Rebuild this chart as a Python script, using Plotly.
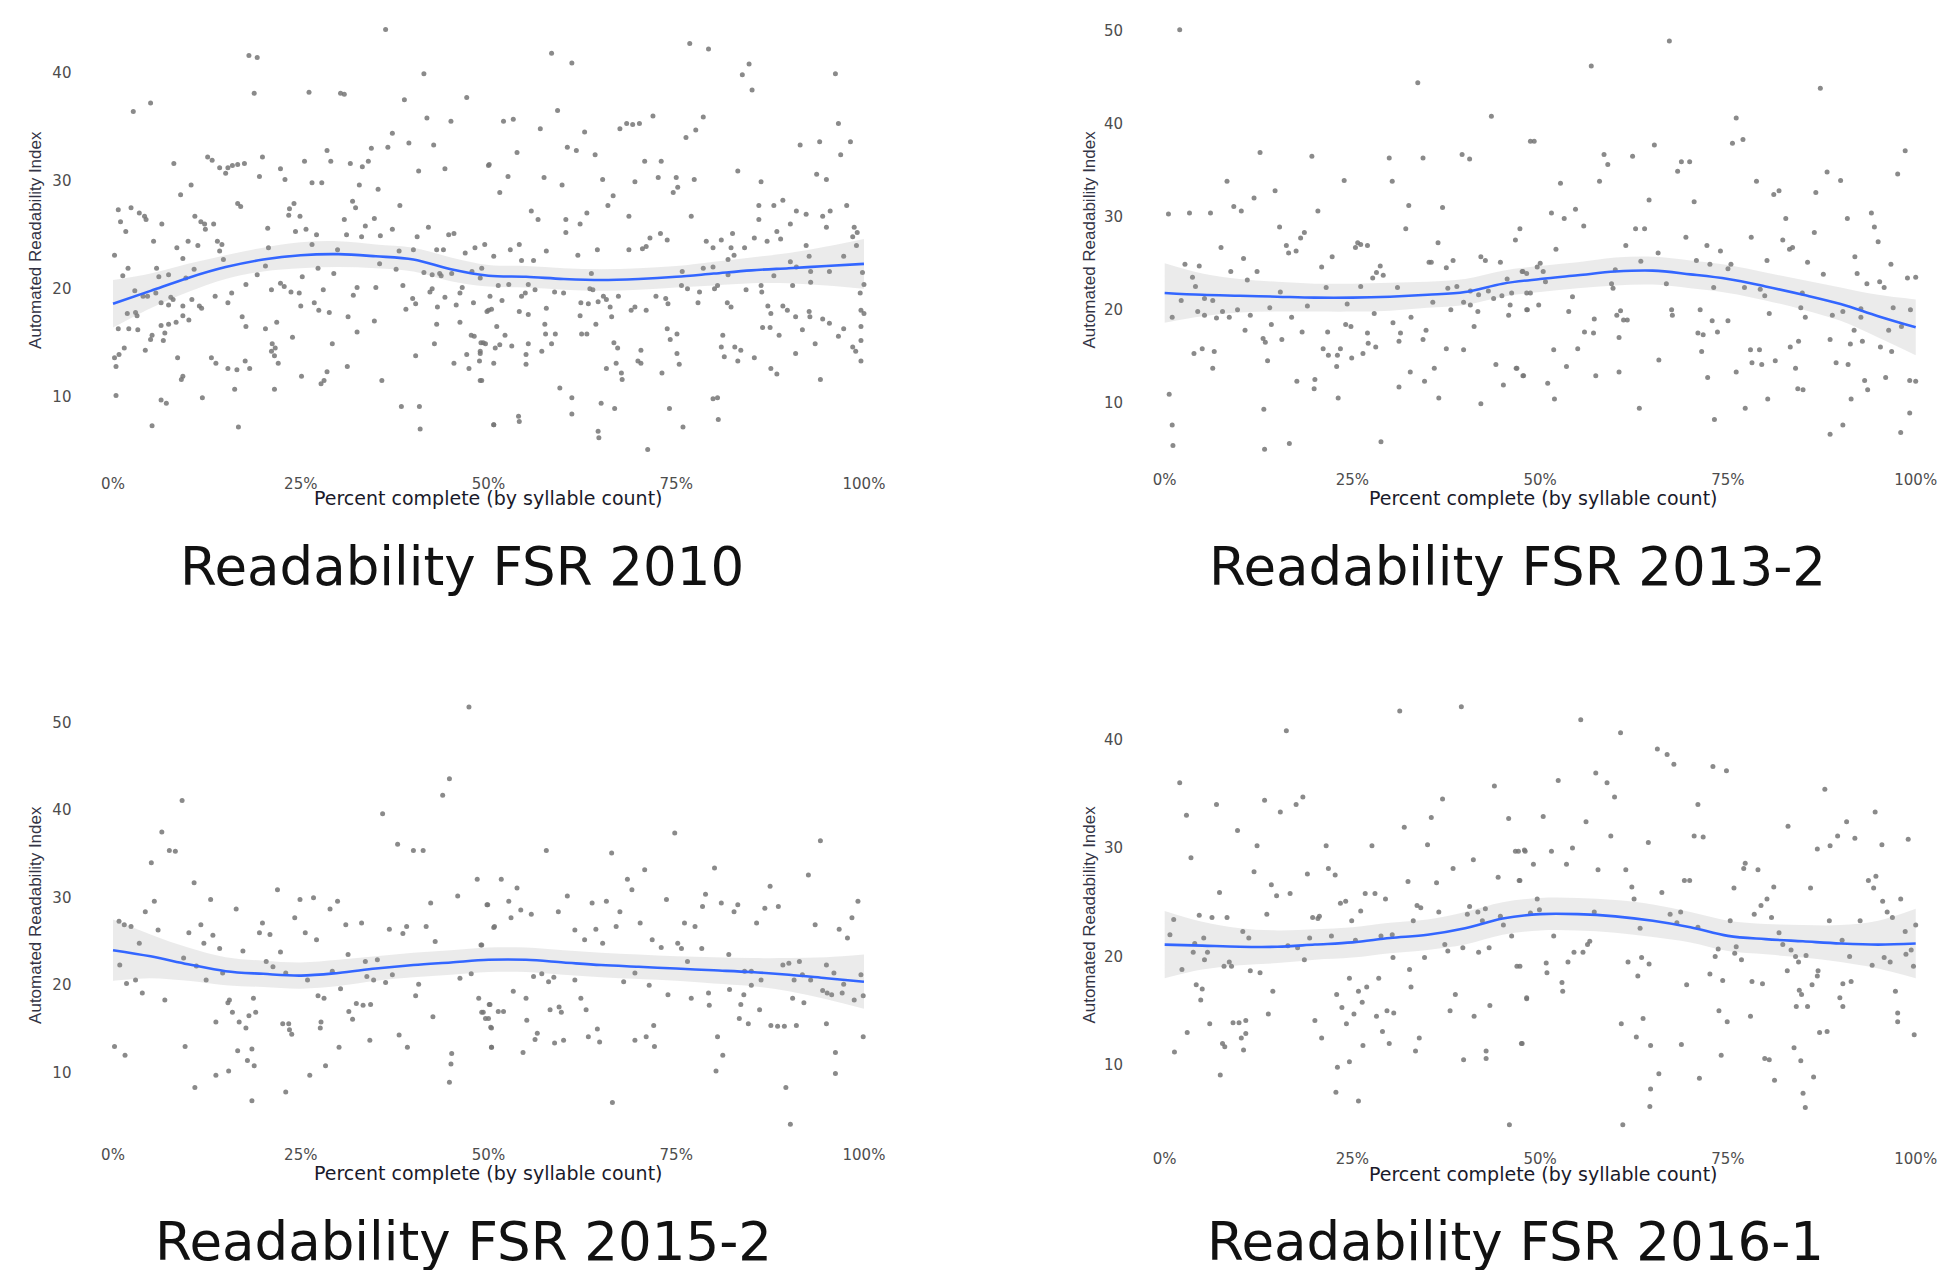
import plotly.graph_objects as go

W, H = 1938, 1270

titles = ["Readability FSR 2010", "Readability FSR 2013-2", "Readability FSR 2015-2", "Readability FSR 2016-1"]
x_title = "Percent complete (by syllable count)"
y_title = "Automated Readability Index"
x_tickvals = [0, 25, 50, 75, 100]
x_ticktext = ["0%", "25%", "50%", "75%", "100%"]
y_ticks_p1 = [10, 20, 30, 40]
y_ticks_p2 = [10, 20, 30, 40, 50]
y_ticks_p3 = [10, 20, 30, 40, 50]
y_ticks_p4 = [10, 20, 30, 40]

# ---------------- Panel 1: FSR 2010 (percent, ARI) ----------------
p1_pts = [
(36.3,44.0),(18.1,41.6),(19.2,41.4),(41.4,39.9),(18.8,38.1),(26.1,38.2),(30.3,38.1),(30.8,38.0),(38.8,37.5),(47.1,37.7),
(5.0,37.2),(2.7,36.4),(41.8,35.8),(45.0,35.5),(37.2,34.4),(36.6,33.1),(39.4,33.5),(34.4,33.0),(42.7,33.3),(28.5,32.8),
(12.6,32.2),(13.2,31.9),(8.1,31.6),(14.2,31.2),(15.3,31.2),(15.9,31.4),(16.6,31.5),(17.5,31.6),(15.0,30.7),(19.9,32.2),
(25.5,31.8),(29.0,31.8),(31.6,31.6),(33.2,31.3),(34.0,31.8),(40.7,30.9),(44.2,31.1),(50.0,31.4),(22.3,31.1),(19.5,30.4),
(22.9,30.1),(26.5,29.8),(27.8,29.8),(32.8,29.6),(35.3,29.2),(10.4,29.6),(9.0,28.7),(31.9,28.1),(32.3,27.5),(38.2,27.7),
(24.1,27.9),(23.5,27.4),(23.4,26.8),(24.9,26.7),(16.6,27.9),(17.0,27.6),(0.7,27.3),(2.4,27.5),(3.5,27.0),(4.2,26.7),
(4.4,26.4),(1.0,26.2),(1.7,25.3),(6.5,26.0),(10.9,26.7),(11.7,26.2),(12.2,26.0),(13.4,26.0),(12.3,25.5),(30.8,26.4),
(34.8,26.5),(33.6,25.8),(42.0,25.7),(37.2,25.5),(20.6,25.6),(24.3,25.3),(25.7,25.5),(27.1,25.0),(31.1,25.0),(33.1,24.8),
(35.6,24.9),(40.5,24.8),(44.7,25.0),(45.4,25.1),(5.4,24.4),(10.0,24.4),(11.3,24.0),(8.5,23.8),(9.3,22.8),(13.9,24.4),
(14.5,24.1),(14.2,23.5),(0.2,23.1),(20.7,23.8),(26.5,24.1),(29.9,23.6),(38.1,23.5),(40.0,23.6),(43.1,23.6),(44.0,23.6),
(46.9,23.3),(48.2,23.8),(49.5,24.1),(14.7,22.7),(2.0,21.9),(1.3,21.2),(5.8,21.9),(6.1,21.1),(7.4,21.3),(10.8,21.8),
(9.7,21.0),(20.3,22.1),(19.2,21.3),(27.3,21.9),(29.4,21.4),(35.5,22.3),(37.7,21.8),(41.4,21.5),(42.5,21.3),(43.5,21.4),
(43.7,21.2),(45.1,21.4),(47.8,21.6),(48.9,21.0),(17.7,20.4),(21.1,19.9),(22.3,20.5),(22.8,20.2),(23.7,19.7),(24.8,19.6),
(25.2,21.1),(28.0,19.9),(32.5,20.1),(32.0,19.4),(35.0,20.1),(38.6,20.3),(42.5,20.0),(42.2,19.7),(46.5,20.1),(46.2,19.6),
(2.9,19.8),(4.0,19.3),(4.6,19.3),(5.7,19.6),(7.7,19.2),(8.0,19.0),(6.4,18.7),(7.4,18.5),(10.5,19.0),(11.5,18.4),
(11.8,18.2),(9.3,18.4),(13.6,19.3),(15.8,19.6),(15.3,18.7),(26.8,18.7),(25.0,18.4),(27.4,18.0),(28.8,17.8),(39.9,19.1),
(40.3,18.6),(39.0,18.1),(43.2,18.3),(44.2,19.2),(45.7,18.5),(48.0,18.7),(49.8,17.9),(50.4,18.1),(1.9,17.7),(3.0,17.8),
(3.2,17.5),(9.3,17.5),(10.1,17.1),(8.4,16.9),(17.2,17.4),(31.3,17.4),(34.8,17.0),(0.7,16.3),(2.1,16.3),(3.3,16.2),
(6.4,16.6),(7.4,16.7),(6.9,15.9),(5.2,15.7),(6.7,15.2),(5.0,15.3),(17.7,16.5),(20.3,16.3),(21.8,16.9),(23.9,15.5),
(32.5,16.0),(43.1,16.7),(46.2,16.9),(47.7,15.7),(48.1,15.6),(49.0,15.0),(49.6,14.9),(29.2,14.9),(21.2,14.9),(21.6,14.5),
(21.1,14.2),(42.8,14.9),(4.3,14.3),(1.5,14.5),(0.2,13.6),(0.8,13.9),(8.6,13.6),(13.1,13.6),(13.7,13.1),(15.3,12.6),
(16.5,12.5),(17.6,13.3),(18.2,12.6),(21.5,13.8),(22.0,13.1),(40.3,13.8),(45.4,13.1),(47.1,13.9),(47.4,12.6),(48.9,14.2),
(48.8,13.3),(0.4,12.8),(31.2,12.8),(9.3,11.9),(9.1,11.6),(25.1,11.9),(28.5,12.3),(28.1,11.5),(27.7,11.2),(35.8,11.5),
(48.9,11.5),(16.2,10.7),(21.5,10.7),(0.4,10.1),(11.9,9.9),(6.4,9.7),(7.1,9.4),(38.4,9.1),(40.8,9.1),(5.2,7.3),
(16.7,7.2),(40.9,7.0),(50.7,7.4),
(76.8,42.7),(79.3,42.2),(58.4,41.8),(61.1,40.9),(84.7,40.8),(83.8,39.8),(85.1,38.4),(96.2,39.9),(59.2,36.5),(52.0,35.5),
(53.3,35.7),(56.9,34.8),(62.8,34.5),(67.5,34.8),(68.4,35.3),(69.2,35.2),(70.1,35.3),(71.9,36.0),(78.6,35.9),(77.6,34.7),
(76.3,34.0),(96.6,35.3),(98.2,33.6),(94.1,33.6),(91.5,33.3),(96.9,32.4),(60.5,33.1),(61.7,32.8),(53.8,32.6),(64.2,32.4),
(50.1,31.5),(70.8,31.8),(73.0,31.8),(52.6,30.4),(57.4,30.3),(59.8,29.6),(65.2,30.1),(69.5,29.9),(72.6,30.3),(75.0,30.3),
(75.2,29.4),(74.6,28.9),(77.4,30.1),(83.2,30.9),(86.3,29.9),(93.7,30.6),(95.0,30.1),(51.5,28.9),(66.6,28.6),(65.9,27.7),
(55.7,27.2),(56.6,26.4),(60.3,26.4),(62.2,26.0),(63.1,27.0),(60.3,25.2),(68.7,26.7),(77.0,26.7),(86.0,27.7),(88.0,27.7),
(89.2,28.2),(86.0,26.4),(91.0,27.2),(92.3,26.9),(94.5,26.7),(95.5,27.2),(97.7,27.7),(90.2,26.0),(88.4,25.3),(95.0,25.7),
(98.7,25.7),(99.1,25.2),(98.5,24.8),(71.5,24.7),(72.9,25.1),(73.8,24.5),(79.0,24.4),(79.9,23.8),(81.0,24.5),(82.5,25.1),
(82.3,23.8),(82.7,23.1),(81.9,22.7),(84.1,23.8),(85.4,24.7),(87.1,24.4),(88.9,24.6),(92.3,24.0),(92.7,23.0),(99.0,24.0),
(97.3,23.0),(70.5,23.7),(71.0,23.9),(68.7,23.6),(64.5,23.6),(61.9,23.1),(57.7,23.5),(52.9,23.6),(54.1,24.1),(50.7,23.0),
(54.4,22.6),(56.0,22.6),(49.1,21.9),(78.6,21.9),(79.9,22.0),(81.9,21.3),(75.8,21.6),(90.2,22.5),(91.0,22.0),(92.9,21.6),
(95.4,21.6),(88.0,21.2),(63.7,21.4),(51.3,20.3),(52.7,20.4),(55.3,20.4),(56.2,19.9),(58.8,19.7),(60.0,19.6),(63.5,20.0),
(63.9,19.9),(75.7,20.3),(76.5,20.0),(78.1,19.7),(80.1,20.0),(80.5,20.3),(84.3,19.9),(86.3,20.3),(86.4,19.7),(90.5,20.3),
(92.9,20.6),(50.2,19.3),(51.8,18.9),(54.9,19.6),(54.4,19.3),(57.7,18.2),(62.3,18.7),(63.3,18.6),(64.6,18.8),(65.3,19.3),
(65.7,19.0),(67.3,19.3),(72.3,19.3),(73.6,19.1),(73.9,18.6),(77.9,18.7),(81.8,18.7),(82.3,18.3),(69.5,18.3),(69.0,18.0),
(71.0,18.0),(66.2,18.3),(66.4,17.4),(50.0,18.0),(54.1,17.9),(55.3,17.6),(62.2,17.5),(87.2,18.4),(87.6,17.7),(89.2,18.4),
(89.8,18.0),(90.9,17.4),(92.7,17.9),(92.8,17.4),(94.5,17.2),(95.4,16.8),(99.6,18.0),(100.0,17.7),(99.6,16.5),(97.3,16.3),
(91.8,16.2),(86.5,16.4),(87.5,16.4),(88.7,15.7),(96.6,15.6),(57.5,16.7),(57.6,15.8),(58.9,15.8),(62.4,15.8),(63.1,15.8),
(64.3,16.7),(51.1,16.5),(52.2,15.7),(73.8,16.3),(75.1,15.8),(74.2,15.3),(49.3,15.0),(50.9,14.5),(51.5,14.8),(53.1,14.7),
(55.3,14.9),(58.4,14.9),(57.1,14.2),(66.7,15.0),(67.2,14.5),(70.3,14.3),(81.2,15.7),(81.0,14.6),(82.8,14.6),(83.6,14.3),
(90.9,14.0),(93.5,14.9),(98.5,14.6),(98.9,14.2),(99.6,15.2),(48.9,14.0),(50.7,13.1),(55.0,13.9),(55.0,13.0),(69.9,13.3),
(70.3,13.1),(75.1,14.0),(75.4,13.0),(81.4,13.7),(83.2,13.3),(85.4,13.6),(99.6,13.3),(65.7,12.6),(67.0,13.1),(67.7,12.2),
(67.8,11.6),(73.1,12.2),(87.6,12.6),(88.4,12.1),(49.1,11.5),(94.2,11.6),(59.5,10.8),(61.1,9.9),(54.0,8.2),(54.1,7.7),
(50.7,7.4),(61.1,8.4),(65.0,9.4),(66.8,8.9),(74.1,8.9),(79.9,9.8),(80.5,9.9),(80.6,7.9),(75.9,7.2),(64.6,6.8),
(64.7,6.2),(71.2,5.1),(99.8,21.5),(100.0,20.4),(99.5,19.6),
]

# ---------------- Panel 2: FSR 2013-2 ----------------
p2_pts = [
(2.0,50.1),(33.7,44.4),(43.5,40.8),(48.7,38.1),(12.7,36.9),(19.6,36.5),(29.9,36.3),(34.4,36.3),(39.6,36.7),(40.6,36.2),
(8.3,33.8),(23.9,33.9),(30.3,33.8),(14.7,32.8),(11.9,32.0),(9.2,31.1),(10.2,30.6),(20.4,30.6),(32.5,31.2),(37.0,31.0),
(0.5,30.3),(3.3,30.4),(6.1,30.4),(15.3,28.9),(32.1,28.7),(47.3,28.7),(46.7,27.5),(18.6,28.3),(18.1,27.7),(7.5,26.7),
(16.2,26.9),(16.5,26.1),(17.5,26.3),(25.7,27.2),(26.1,27.0),(27.0,26.9),(25.4,26.7),(36.4,27.2),(10.5,25.5),(22.3,25.7),
(42.1,25.7),(42.7,25.3),(44.7,25.1),(35.2,25.1),(35.5,25.1),(38.4,25.3),(37.5,24.5),(2.7,24.9),(4.6,24.7),(20.9,24.6),
(28.7,24.7),(8.8,24.1),(12.3,24.1),(28.2,24.0),(29.1,23.7),(47.7,24.1),(3.7,23.5),(11.0,23.2),(27.7,23.4),(4.1,22.5),
(31.0,22.4),(26.1,22.5),(21.5,22.4),(15.4,21.9),(37.7,22.3),(38.9,22.5),(40.7,22.0),(41.8,21.6),(43.1,22.0),(45.6,23.3),
(44.9,21.5),(46.2,21.8),(48.2,21.8),(43.8,21.2),(2.2,21.0),(5.3,21.2),(6.4,21.0),(14.0,20.2),(19.0,20.4),(24.3,20.6),
(35.7,20.8),(39.8,20.8),(40.7,20.5),(46.0,20.5),(1.0,19.2),(4.4,19.8),(5.3,19.4),(6.9,19.1),(7.7,19.8),(8.6,19.2),
(9.7,20.0),(11.4,19.4),(16.9,19.2),(27.9,19.6),(32.8,19.2),(38.1,20.0),(41.7,19.8),(45.8,19.4),(48.2,20.0),(14.2,18.4),
(30.4,18.6),(41.2,18.2),(10.7,17.8),(18.3,17.6),(21.7,17.6),(24.1,18.4),(24.8,18.2),(27.0,17.5),(31.4,17.5),(34.8,17.8),
(13.1,16.9),(13.4,16.5),(15.6,16.8),(31.2,16.6),(34.4,16.8),(27.1,16.4),(28.1,16.0),(21.1,15.8),(21.8,15.1),(23.0,15.1),
(23.4,15.8),(24.9,14.8),(26.4,15.3),(37.5,15.8),(39.8,15.7),(5.0,15.8),(3.9,15.3),(6.6,15.5),(6.4,13.7),(13.7,14.5),
(22.9,13.9),(32.7,13.3),(35.9,13.7),(44.1,14.1),(46.8,13.7),(47.7,12.9),(17.6,12.3),(20.0,12.5),(19.9,11.5),(31.2,11.7),
(34.6,12.3),(45.1,11.9),(0.6,10.9),(23.1,10.5),(36.5,10.5),(42.1,9.9),(13.2,9.3),(1.0,7.6),(1.1,5.4),(13.3,5.0),
(16.6,5.6),(28.8,5.8),
(67.2,48.9),(56.8,46.2),(87.3,43.8),(76.1,40.6),(49.2,38.1),(77.0,38.3),(75.6,37.9),(65.2,37.7),(58.5,36.7),(59.0,35.6),
(62.3,36.5),(68.8,35.9),(69.9,35.9),(68.3,34.9),(98.6,37.1),(97.6,34.6),(52.7,33.6),(57.9,33.8),(78.8,33.8),(88.2,34.8),
(90.0,33.9),(81.1,32.4),(81.8,32.8),(86.7,32.6),(64.5,31.8),(70.5,31.6),(51.5,30.4),(54.7,30.8),(53.2,29.8),(55.8,29.0),
(62.7,28.7),(63.9,28.7),(69.4,27.8),(78.1,27.8),(82.7,29.8),(90.9,29.8),(94.1,30.4),(94.5,28.9),(95.0,27.3),(86.5,28.3),
(82.3,27.5),(83.2,26.5),(83.6,26.7),(52.1,26.5),(61.4,26.9),(65.7,26.1),(72.2,26.9),(74.0,26.3),(70.8,25.3),(72.6,24.9),
(75.4,24.9),(75.0,24.4),(80.2,25.3),(85.6,25.1),(91.9,25.7),(96.7,24.9),(92.2,23.9),(87.7,23.8),(49.6,24.6),(50.0,25.0),
(50.4,24.1),(47.6,24.1),(48.2,23.9),(60.0,24.3),(63.4,25.2),(50.7,23.0),(48.7,21.8),(59.5,22.8),(59.7,22.3),(66.8,22.8),
(73.1,22.4),(77.2,22.4),(79.3,22.2),(79.9,21.5),(93.5,22.8),(95.2,23.0),(95.8,22.4),(98.9,23.4),(100.0,23.5),(54.3,21.4),
(84.9,21.8),(48.3,20.0),(49.8,20.5),(53.8,19.8),(57.2,19.0),(60.2,19.4),(61.1,18.9),(61.6,18.9),(60.7,19.9),(67.5,20.0),
(67.6,19.4),(71.3,20.0),(72.9,18.8),(75.0,18.8),(80.5,19.6),(84.7,20.2),(85.3,19.2),(88.9,19.4),(90.3,19.8),(92.7,20.1),
(92.7,19.2),(97.0,20.2),(99.3,20.0),(55.9,17.6),(57.1,17.5),(60.5,17.0),(71.0,17.5),(71.7,17.3),(73.6,17.6),(91.8,17.8),
(96.4,17.8),(98.1,18.2),(51.8,15.7),(55.0,15.8),(65.8,14.6),(71.5,15.5),(78.0,15.7),(79.2,15.7),(83.3,16.0),(84.4,16.6),
(88.6,16.8),(91.3,16.3),(92.9,16.6),(95.3,16.0),(96.8,15.5),(46.9,13.7),(47.8,12.9),(53.5,13.9),(60.5,13.3),(57.4,12.9),
(51.0,12.1),(51.9,10.4),(78.2,14.3),(79.5,14.1),(81.3,14.5),(76.1,13.3),(72.3,12.7),(84.0,13.7),(89.4,14.3),(91.0,14.1),
(93.2,12.4),(93.6,11.4),(96.0,12.7),(99.2,12.4),(100.0,12.3),(84.3,11.5),(85.0,11.4),(80.3,10.4),(91.4,10.4),(63.2,9.4),
(77.3,9.4),(73.2,8.2),(99.2,8.9),(90.3,7.6),(88.6,6.6),(98.0,6.8),
]

# ---------------- Panel 3: FSR 2015-2 ----------------
p3_pts = [
(47.4,51.8),(44.8,43.6),(43.9,41.7),(9.2,41.1),(35.9,39.6),(6.5,37.5),(7.5,35.4),(8.3,35.3),(37.9,36.1),(40.0,35.4),
(41.3,35.4),(5.1,34.0),(10.8,31.7),(48.5,32.1),(13.0,29.8),(5.5,29.6),(21.9,30.9),(24.9,29.8),(26.7,30.0),(29.9,29.6),
(28.9,28.7),(45.9,30.2),(42.3,29.4),(49.8,29.2),(16.4,28.7),(4.3,28.4),(0.8,27.3),(1.5,26.9),(2.4,26.7),(24.2,27.7),
(19.9,27.1),(11.7,26.9),(6.0,26.3),(10.1,26.0),(19.5,26.0),(20.9,25.8),(25.6,26.0),(13.3,25.7),(31.0,26.9),(33.1,27.1),
(36.8,26.4),(38.6,25.9),(39.1,26.7),(41.7,26.7),(50.7,26.6),(27.1,25.2),(3.5,24.8),(12.1,24.8),(14.2,24.2),(17.3,23.9),
(42.9,25.0),(22.3,23.8),(31.3,23.5),(49.0,24.6),(9.4,23.1),(20.4,22.7),(21.3,22.1),(33.6,22.7),(35.2,22.9),(0.9,22.3),
(11.1,22.2),(29.2,21.6),(14.6,21.4),(23.0,21.4),(37.2,21.2),(33.8,21.0),(34.7,20.6),(36.3,20.3),(47.7,21.3),(46.2,20.8),
(1.8,20.2),(3.0,20.6),(12.4,20.6),(25.9,20.6),(40.7,20.1),(3.9,19.1),(30.3,19.6),(27.3,18.8),(28.1,18.5),(40.3,18.8),
(48.7,18.5),(6.9,18.3),(18.7,18.5),(15.3,18.0),(15.5,18.3),(32.4,17.9),(33.3,17.7),(34.3,17.8),(50.1,17.8),(15.9,16.9),
(19.0,16.9),(18.1,16.5),(31.4,17.0),(31.9,16.1),(42.6,16.4),(49.3,16.9),(49.6,16.2),(13.7,15.8),(16.8,15.8),(17.7,15.1),
(22.6,15.6),(23.4,15.6),(23.5,14.9),(23.8,14.4),(27.7,15.8),(27.6,15.1),(50.4,15.1),(34.2,13.7),(38.1,14.3),(9.6,13.0),
(30.1,12.9),(39.2,12.9),(50.4,12.9),(16.6,12.5),(18.5,12.7),(45.1,12.2),(17.9,11.4),(18.8,10.8),(45.0,11.0),(28.3,10.8),
(15.4,10.2),(13.7,9.7),(26.2,9.7),(44.8,8.9),(10.9,8.3),(23.0,7.8),(18.5,6.8),(0.2,13.0),(1.6,12.0),
(74.8,37.4),(94.2,36.5),(57.7,35.4),(66.4,35.1),(80.1,33.4),(70.8,33.2),(92.6,32.6),(68.5,32.1),(69.1,30.9),(51.7,32.1),
(53.8,31.1),(87.5,31.3),(60.5,30.2),(78.9,30.4),(49.9,29.2),(52.7,29.6),(63.8,29.4),(65.7,29.6),(73.7,29.8),(99.2,29.6),
(54.3,28.6),(55.7,28.1),(53.0,27.7),(59.3,28.4),(67.5,28.4),(78.5,29.0),(81.0,29.4),(83.2,29.2),(82.7,28.4),(86.8,28.8),
(88.6,29.0),(98.4,27.7),(50.8,26.7),(61.5,26.3),(64.3,26.4),(67.0,26.7),(70.2,27.1),(76.1,27.1),(77.5,26.7),(85.7,27.1),
(93.5,26.9),(96.7,26.4),(97.8,25.4),(62.8,25.2),(65.2,24.8),(71.8,25.2),(73.0,24.3),(75.2,24.8),(75.7,24.2),(78.4,24.2),
(82.0,23.5),(49.1,24.6),(76.5,22.7),(89.2,22.3),(90.0,22.5),(91.4,22.7),(95.0,22.3),(56.0,21.0),(57.1,21.3),(58.0,20.4),
(58.7,20.9),(61.5,20.6),(69.5,21.4),(68.0,20.4),(71.4,20.0),(84.1,21.6),(85.0,21.6),(86.3,20.6),(85.0,20.0),(90.7,20.6),
(91.8,21.2),(92.9,20.6),(96.0,21.4),(97.3,20.1),(99.6,21.2),(53.3,19.3),(55.0,18.5),(62.3,18.5),(73.9,18.9),(77.0,18.5),
(79.3,19.1),(82.1,19.5),(84.0,18.9),(90.5,18.5),(92.0,18.0),(94.5,19.4),(95.1,19.1),(95.7,18.9),(97.1,19.1),(98.7,18.3),
(99.9,18.8),(50.2,17.8),(51.3,17.0),(52.0,17.0),(50.0,16.2),(50.3,15.2),(49.1,16.9),(58.2,17.2),(59.4,17.5),(59.7,16.9),
(63.0,17.2),(55.1,16.0),(79.4,17.7),(83.6,17.8),(86.1,17.2),(83.4,16.2),(84.6,15.6),(87.6,15.4),(88.5,15.3),(89.4,15.3),
(91.0,15.4),(95.0,15.6),(72.0,15.4),(64.5,15.0),(64.8,13.5),(56.5,14.5),(56.2,13.8),(58.8,13.4),(60.0,13.7),(63.3,14.1),
(69.5,13.7),(71.0,14.1),(72.1,13.0),(80.5,14.1),(99.9,14.1),(50.4,12.9),(54.6,12.3),(81.2,12.0),(96.2,12.3),(80.3,10.2),
(96.2,9.9),(89.6,8.3),(66.5,6.6),(90.2,4.1),
]

# ---------------- Panel 4: FSR 2016-1 ----------------
p4_pts = [
(31.3,42.6),(39.5,43.0),(16.2,40.8),(2.0,36.0),(43.9,35.7),(2.9,33.0),(6.9,34.0),(13.3,34.4),(15.4,33.3),(17.5,34.0),
(18.4,34.7),(37.0,34.5),(35.5,32.8),(45.8,32.7),(9.7,31.6),(31.9,31.9),(3.5,29.1),(12.3,30.2),(21.5,30.2),(27.6,30.2),
(35.0,30.3),(46.7,29.7),(47.9,29.8),(41.1,28.9),(38.4,28.1),(11.9,27.8),(19.0,27.6),(21.8,28.1),(22.7,27.5),(44.4,27.3),
(47.3,27.0),(32.4,26.9),(36.2,26.8),(14.2,26.6),(7.3,25.9),(14.9,25.6),(16.7,25.8),(23.4,24.9),(24.1,25.1),(26.7,25.8),
(28.0,25.8),(29.4,25.3),(33.6,24.7),(34.1,24.5),(26.1,24.2),(36.5,24.1),(24.9,23.3),(33.1,23.3),(13.6,23.9),(1.2,23.4),
(4.6,23.8),(6.3,23.6),(8.3,23.6),(19.7,23.6),(20.4,23.5),(20.6,23.7),(40.3,23.9),(40.6,24.6),(41.7,24.1),(42.7,24.4),
(42.3,23.3),(44.7,23.7),(45.1,22.9),(0.7,22.0),(10.4,22.3),(11.2,21.7),(5.2,21.7),(19.3,21.7),(22.2,21.9),(28.8,21.9),
(30.3,22.0),(25.4,21.5),(46.2,21.9),(16.4,21.0),(17.7,20.8),(37.3,21.1),(37.7,20.5),(39.7,20.8),(41.8,20.4),(43.2,20.8),
(3.8,20.4),(5.7,20.4),(4.0,21.2),(5.3,19.7),(18.6,19.7),(30.4,19.9),(34.6,19.9),(2.3,18.8),(7.9,19.1),(8.9,19.1),
(8.6,19.5),(11.4,18.7),(12.7,18.5),(32.6,18.8),(47.3,19.1),(24.6,18.0),(28.5,18.0),(4.2,17.4),(5.0,17.0),(14.4,16.8),
(26.9,17.2),(25.8,16.8),(26.3,15.8),(32.8,17.2),(22.9,16.5),(38.7,16.5),(4.8,16.0),(48.2,16.1),(43.3,15.5),(23.6,15.3),
(25.2,14.7),(24.2,13.8),(28.2,14.5),(29.6,15.0),(30.5,14.8),(38.0,15.0),(41.2,14.5),(13.8,14.7),(6.0,13.8),(9.1,13.9),
(9.9,13.9),(10.8,14.1),(10.8,12.9),(10.2,12.5),(20.0,14.1),(29.0,13.1),(3.0,13.0),(20.9,12.5),(33.9,12.5),(7.7,12.0),
(8.0,11.7),(10.5,11.4),(26.4,11.8),(29.9,12.0),(47.5,12.0),(1.3,11.2),(33.4,11.3),(42.8,11.3),(42.8,10.6),(39.8,10.5),
(24.6,10.3),(23.0,9.8),(7.4,9.1),(22.8,7.5),(25.8,6.7),(45.9,4.5),
(55.4,41.8),(60.7,40.6),(65.6,39.1),(66.9,38.6),(67.8,37.7),(73.0,37.5),(74.8,37.1),(52.4,36.2),(57.4,36.9),(58.9,36.0),
(59.9,34.7),(87.9,35.4),(94.6,33.3),(50.4,32.9),(56.1,32.4),(71.0,34.0),(83.0,32.0),(90.8,32.4),(59.4,31.1),(70.5,31.1),
(71.7,31.0),(89.6,31.1),(91.9,30.9),(64.4,30.5),(48.0,29.7),(47.1,29.7),(51.5,29.7),(54.3,30.0),(86.9,29.9),(88.6,30.2),
(95.5,30.3),(99.0,30.8),(49.1,28.5),(53.5,28.5),(57.7,28.0),(61.4,28.0),(77.3,28.6),(77.1,28.1),(79.0,28.0),(69.2,27.0),
(69.9,27.0),(47.2,27.0),(62.2,26.4),(66.2,25.9),(75.8,26.3),(81.1,26.4),(86.0,26.3),(93.7,27.0),(94.7,27.4),(94.4,26.3),
(62.5,25.3),(80.2,25.3),(79.4,24.7),(95.6,25.1),(98.0,25.3),(49.6,25.3),(78.5,23.9),(80.8,23.6),(68.7,24.1),(67.3,23.9),
(57.2,24.1),(48.7,24.0),(49.9,24.3),(75.3,23.3),(96.2,24.1),(96.9,23.6),(88.5,23.3),(92.6,23.3),(100.0,22.9),(68.2,23.1),
(71.0,22.7),(63.3,22.6),(51.8,21.9),(56.6,21.4),(56.3,21.1),(55.7,20.4),(54.5,20.4),(81.8,22.2),(90.2,21.5),(98.6,22.3),
(82.3,21.1),(83.4,20.6),(84.0,20.0),(73.7,20.7),(76.1,20.9),(73.3,20.0),(75.9,20.3),(76.8,19.7),(85.4,20.1),(91.2,20.0),
(95.8,19.9),(96.6,19.5),(98.7,20.2),(99.4,20.6),(84.4,19.5),(46.9,19.1),(50.8,19.4),(50.9,18.5),(53.7,19.5),(61.7,19.5),
(63.5,19.9),(64.5,19.3),(63.0,18.2),(94.2,19.2),(99.7,19.1),(82.9,18.7),(87.0,18.7),(86.9,18.2),(72.6,18.4),(74.3,17.8),
(78.2,17.7),(79.6,17.5),(90.3,17.5),(91.4,17.7),(69.5,17.4),(52.9,17.6),(53.0,16.8),(86.2,17.4),(84.5,16.9),(84.8,16.5),
(48.2,16.2),(89.9,16.2),(97.3,16.8),(84.1,15.4),(85.6,15.4),(90.3,15.4),(73.8,15.0),(78.0,14.5),(74.9,14.0),(97.6,14.8),
(97.6,14.0),(60.8,13.8),(63.7,14.3),(87.2,13.0),(88.2,13.1),(99.8,12.8),(47.6,12.0),(62.8,12.6),(64.7,11.8),(68.8,11.9),
(74.1,10.9),(79.9,10.6),(80.5,10.5),(83.8,11.6),(84.7,10.4),(65.8,9.2),(71.2,8.8),(81.2,8.6),(86.4,8.9),(64.7,7.8),
(85.0,7.4),(64.6,6.2),(85.3,6.1),(61.0,4.5),
]

# ---------------- Smoothed trend lines and confidence half-widths ----------------
smooth_x = [0, 5, 10, 15, 20, 25, 30, 35, 40, 45, 50, 55, 60, 65, 70, 75, 80, 85, 90, 95, 100]
p1_fit = [18.6, 19.8, 21.0, 22.0, 22.7, 23.1, 23.2, 23.0, 22.7, 21.8, 21.2, 21.1, 20.9, 20.8, 20.9, 21.1, 21.4, 21.7, 21.9, 22.1, 22.3]
p1_se = [2.2, 1.6, 1.3, 1.1, 1.1, 1.2, 1.2, 1.1, 1.1, 1.1, 1.0, 1.0, 1.0, 1.0, 1.0, 1.0, 1.1, 1.2, 1.4, 1.8, 2.3]
p2_fit = [21.8, 21.6, 21.5, 21.4, 21.3, 21.3, 21.4, 21.6, 21.9, 22.8, 23.3, 23.7, 24.1, 24.2, 23.8, 23.3, 22.5, 21.6, 20.6, 19.3, 18.1]
p2_se = [3.2, 2.3, 1.8, 1.6, 1.5, 1.5, 1.5, 1.4, 1.4, 1.4, 1.4, 1.4, 1.5, 1.5, 1.5, 1.5, 1.5, 1.6, 1.8, 2.3, 3.0]
p3_fit = [24.0, 23.3, 22.4, 21.6, 21.3, 21.1, 21.4, 21.9, 22.3, 22.6, 22.9, 22.9, 22.6, 22.3, 22.1, 21.9, 21.7, 21.5, 21.2, 20.8, 20.4]
p3_se = [3.5, 2.5, 1.9, 1.6, 1.5, 1.5, 1.5, 1.4, 1.4, 1.4, 1.4, 1.4, 1.4, 1.4, 1.4, 1.4, 1.5, 1.6, 1.9, 2.4, 3.1]
p4_fit = [21.1, 21.0, 20.9, 20.9, 21.1, 21.3, 21.7, 22.0, 22.6, 23.5, 23.9, 23.9, 23.7, 23.3, 22.7, 21.9, 21.6, 21.4, 21.2, 21.1, 21.2]
p4_se = [3.1, 2.2, 1.7, 1.5, 1.4, 1.4, 1.4, 1.4, 1.5, 1.5, 1.5, 1.5, 1.5, 1.5, 1.4, 1.4, 1.4, 1.5, 1.7, 2.2, 3.2]

panels = [
    (p1_pts, p1_fit, p1_se, y_ticks_p1),
    (p2_pts, p2_fit, p2_se, y_ticks_p2),
    (p3_pts, p3_fit, p3_se, y_ticks_p3),
    (p4_pts, p4_fit, p4_se, y_ticks_p4),
]

# layout geometry (paper fractions)
x_domains = [[0.03906, 0.45496], [0.58340, 0.99934], [0.03906, 0.45496], [0.58340, 0.99934]]
y_domains = [[0.62811, 0.99378], [0.63165, 0.99047], [0.10024, 0.45161], [0.09720, 0.45205]]
y_ranges = [[3, 46], [3, 52], [2, 53], [2.5, 44]]

POINT_COLOR = "rgba(118,118,118,0.85)"
LINE_COLOR = "#3366FF"
BAND_COLOR = "rgba(153,153,153,0.2)"

fig = go.Figure()
for i, (pts, fit, se, yt) in enumerate(panels):
    n = "" if i == 0 else str(i + 1)
    xa, ya = "x" + n, "y" + n
    px = [p[0] for p in pts]
    py = [p[1] for p in pts]
    fig.add_trace(go.Scatter(x=px, y=py, mode="markers", xaxis=xa, yaxis=ya,
                             marker=dict(size=5, color=POINT_COLOR, line=dict(width=0)),
                             showlegend=False, hoverinfo="skip"))
    lo = [f - s for f, s in zip(fit, se)]
    hi = [f + s for f, s in zip(fit, se)]
    fig.add_trace(go.Scatter(x=smooth_x, y=lo, mode="lines", xaxis=xa, yaxis=ya,
                             line=dict(width=0, shape="spline", color=BAND_COLOR),
                             showlegend=False, hoverinfo="skip"))
    fig.add_trace(go.Scatter(x=smooth_x, y=hi, mode="lines", xaxis=xa, yaxis=ya,
                             line=dict(width=0, shape="spline", color=BAND_COLOR),
                             fill="tonexty", fillcolor=BAND_COLOR,
                             showlegend=False, hoverinfo="skip"))
    fig.add_trace(go.Scatter(x=smooth_x, y=fit, mode="lines", xaxis=xa, yaxis=ya,
                             line=dict(width=2.6, shape="spline", color=LINE_COLOR),
                             showlegend=False, hoverinfo="skip"))

    tickfont = dict(family="DejaVu Sans", size=15, color="#4D4D4D")
    fig.layout["xaxis" + n] = dict(domain=x_domains[i], range=[-5, 102], anchor=ya,
                                   tickvals=x_tickvals, ticktext=x_ticktext,
                                   showgrid=False, zeroline=False, showline=False,
                                   ticks="", tickfont=tickfont, ticklabelstandoff=1, fixedrange=True)
    fig.layout["yaxis" + n] = dict(domain=y_domains[i], range=y_ranges[i], anchor=xa,
                                   tickvals=yt, showgrid=False, zeroline=False, showline=False,
                                   ticks="", tickfont=tickfont, ticklabelstandoff=3, fixedrange=True)

def px2paper(xp, yp):
    return xp / W, 1 - yp / H

annotations = []
title_pos = [(463, 567), (1522, 567), (465, 1241), (1520, 1241)]
xt_pos = [(490, 498), (1548, 498), (490, 1173), (1548, 1174)]
yt_pos = [(35, 240), (1092, 240), (35, 915), (1092, 915)]
for i in range(4):
    ax, ay = px2paper(*title_pos[i])
    annotations.append(dict(text=titles[i], x=ax, y=ay, xref="paper", yref="paper",
                            showarrow=False, xanchor="center", yanchor="middle",
                            font=dict(family="DejaVu Sans", size=53, color="#111111")))
    ax, ay = px2paper(*xt_pos[i])
    annotations.append(dict(text=x_title, x=ax, y=ay, xref="paper", yref="paper",
                            showarrow=False, xanchor="center", yanchor="middle",
                            font=dict(family="DejaVu Sans", size=19, color="#1a1a2a")))
    ax, ay = px2paper(*yt_pos[i])
    annotations.append(dict(text=y_title, x=ax, y=ay, xref="paper", yref="paper",
                            showarrow=False, xanchor="center", yanchor="middle", textangle=-90,
                            font=dict(family="Liberation Sans", size=17, color="#333344")))

fig.update_layout(width=W, height=H, margin=dict(l=0, r=0, t=0, b=0),
                  paper_bgcolor="white", plot_bgcolor="white",
                  annotations=annotations, showlegend=False)

fig.write_html("out.html", include_plotlyjs=True, full_html=True,
               config={"displayModeBar": False},
               post_script="document.body.style.margin='0px';document.body.style.padding='0px';document.body.style.overflow='hidden';")
